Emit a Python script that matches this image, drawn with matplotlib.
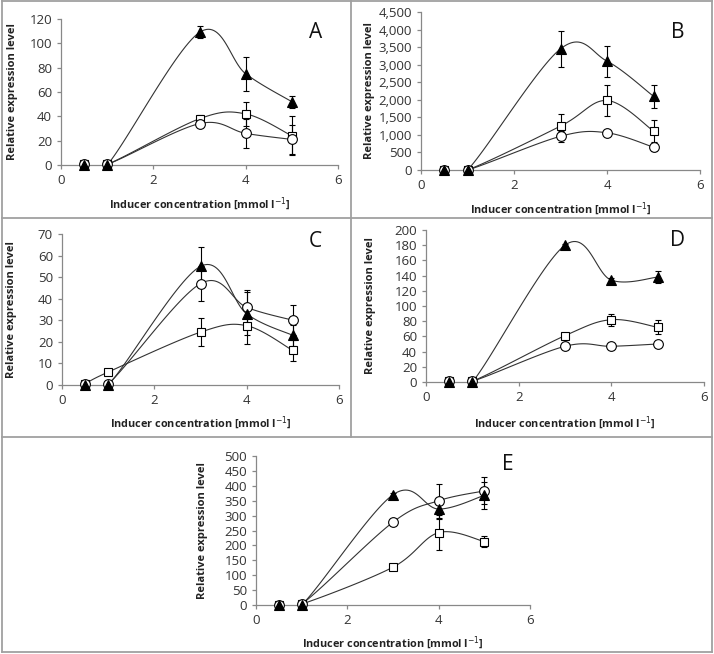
import numpy as np
import matplotlib.pyplot as plt
from matplotlib.lines import Line2D

plt.rcParams['font.family'] = ['Open Sans', 'DejaVu Sans']

x = [0.5, 1, 3, 4, 5]

# panel data: (triangle, square, circle) values and errors
tri_A = [0, 0, 109, 75, 52]
tri_A_err = [0, 0, 5, 14, 5]
sq_A = [0.5, 0.5, 38, 42, 24]
sq_A_err = [0, 0, 3, 10, 16]
ci_A = [0.5, 0.5, 34, 26, 21]
ci_A_err = [0, 0, 2, 12, 12]

tri_B = [0, 0, 3450, 3100, 2100]
tri_B_err = [0, 0, 520, 440, 320]
sq_B = [0, 0, 1250, 1980, 1110]
sq_B_err = [0, 0, 350, 440, 300]
ci_B = [0, 0, 960, 1060, 650]
ci_B_err = [0, 0, 150, 90, 100]

tri_C = [0, 0, 55, 33, 23]
tri_C_err = [0, 0, 9, 10, 5]
sq_C = [0.5, 6, 24.5, 27.5, 16]
sq_C_err = [0, 0, 6.5, 8.5, 5]
ci_C = [0.5, 0.5, 47, 36, 30]
ci_C_err = [0, 0, 8, 8, 7]

tri_D = [0, 0, 180, 134, 138]
tri_D_err = [0, 0, 2, 3, 8]
sq_D = [1, 1, 61, 82, 72]
sq_D_err = [0, 0, 2, 8, 9]
ci_D = [1, 1, 47, 47, 50]
ci_D_err = [0, 0, 2, 2, 2]

tri_E = [0, 0, 370, 322, 368]
tri_E_err = [0, 0, 5, 35, 45]
sq_E = [0, 3, 127, 243, 213]
sq_E_err = [0, 0, 5, 60, 18]
ci_E = [0, 3, 278, 350, 383]
ci_E_err = [0, 0, 5, 57, 45]

panels = {
    'A': (tri_A, tri_A_err, sq_A, sq_A_err, ci_A, ci_A_err, 120, 20),
    'B': (tri_B, tri_B_err, sq_B, sq_B_err, ci_B, ci_B_err, 4500, 500),
    'C': (tri_C, tri_C_err, sq_C, sq_C_err, ci_C, ci_C_err, 70, 10),
    'D': (tri_D, tri_D_err, sq_D, sq_D_err, ci_D, ci_D_err, 200, 20),
    'E': (tri_E, tri_E_err, sq_E, sq_E_err, ci_E, ci_E_err, 500, 50),
}

W, H = 714, 654
# axes boxes in pixels: left, top, right, bottom; ylabel x; xlabel y; letter pos
boxes = {
    'A': (61, 19, 338, 165, 13, 202, (316, 33)),
    'B': (421, 12, 700, 170, 370, 207, (678, 32)),
    'C': (62, 234, 339, 385, 12, 421, (315, 242)),
    'D': (426, 230, 704, 382, 371, 421, (677, 241)),
    'E': (256, 456, 530, 605, 203, 641, (508, 465)),
}

fig = plt.figure(figsize=(W / 100, H / 100), dpi=100)

# grey frame lines
grey = '#a0a0a0'
for (x0, y0, x1, y1) in [(2, 1, 2, 652), (712, 1, 712, 652), (2, 1, 712, 1), (2, 652, 712, 652),
                         (351, 1, 351, 437), (2, 218, 712, 218), (2, 437, 712, 437)]:
    fig.add_artist(Line2D([x0 / W, x1 / W], [1 - y0 / H, 1 - y1 / H], color=grey, lw=1.3))


def smooth(ax, xs, ys, n=30):
    # Excel-style smoothed line (Catmull-Rom Bezier) in display space
    pts = ax.transData.transform(np.column_stack([xs, ys]))
    out = []
    m = len(pts)
    for i in range(m - 1):
        p0 = pts[max(i - 1, 0)]
        p1 = pts[i]
        p2 = pts[i + 1]
        p3 = pts[min(i + 2, m - 1)]
        c1 = p1 + (p2 - p0) / 6
        c2 = p2 - (p3 - p1) / 6
        t = np.linspace(0, 1, n)[:, None]
        seg = (1 - t) ** 3 * p1 + 3 * (1 - t) ** 2 * t * c1 + 3 * (1 - t) * t ** 2 * c2 + t ** 3 * p2
        out.append(seg if i == 0 else seg[1:])
    out = np.vstack(out)
    return ax.transData.inverted().transform(out)


for name, (tv, te, sv, se, cv, ce, ymax, ystep) in panels.items():
    l, t, r, b, ylx, xly, (lx, ly) = boxes[name]
    ax = fig.add_axes([l / W, 1 - b / H, (r - l) / W, (b - t) / H])
    ax.set_xlim(0, 6)
    ax.set_ylim(0, ymax)
    ax.set_xticks([0, 2, 4, 6])
    ax.set_yticks(np.arange(0, ymax + 1, ystep))
    if ymax >= 1000:
        ax.yaxis.set_major_formatter(plt.FuncFormatter(lambda v, p: f'{int(v):,}'))
    for s in ['top', 'right']:
        ax.spines[s].set_visible(False)
    for s in ['left', 'bottom']:
        ax.spines[s].set_color('#888888')
        ax.spines[s].set_linewidth(0.9)
    ax.tick_params(colors='#888888', labelcolor='#333333', labelsize=9.5, length=3, width=0.9)
    ax.set_ylabel('Relative expression level', fontsize=8, fontweight='bold', color='#222222')
    ax.set_xlabel('Inducer concentration [mmol l$^{-1}$]', fontsize=7.8, fontweight='bold', color='#222222')
    hpx = b - t
    ax.yaxis.set_label_coords((ylx + 5 - l) / (r - l), 0.5)
    ax.xaxis.set_label_coords(0.5, -(xly - 6 - b) / hpx)
    ax.patch.set_alpha(0)

    for vals, errs, mk, ms, fc in [(sv, se, 's', 5.5, 'white'), (cv, ce, 'o', 7, 'white'),
                                   (tv, te, '^', 6.5, 'black')]:
        sm = smooth(ax, x, vals)
        ax.plot(sm[:, 0], sm[:, 1], color='#333333', lw=0.8, zorder=2)
        ax.errorbar(x, vals, yerr=errs, fmt='none', ecolor='black', elinewidth=0.8,
                    capsize=2.5, capthick=0.8, zorder=3)
        ax.plot(x, vals, ls='none', marker=mk, ms=ms, mfc=fc, mec='black', mew=0.8, zorder=4,
                clip_on=False)

    fig.text(lx / W, 1 - ly / H, name, fontsize=15, ha='center', va='center', color='#111111')

fig.savefig('out.png', dpi=100)
